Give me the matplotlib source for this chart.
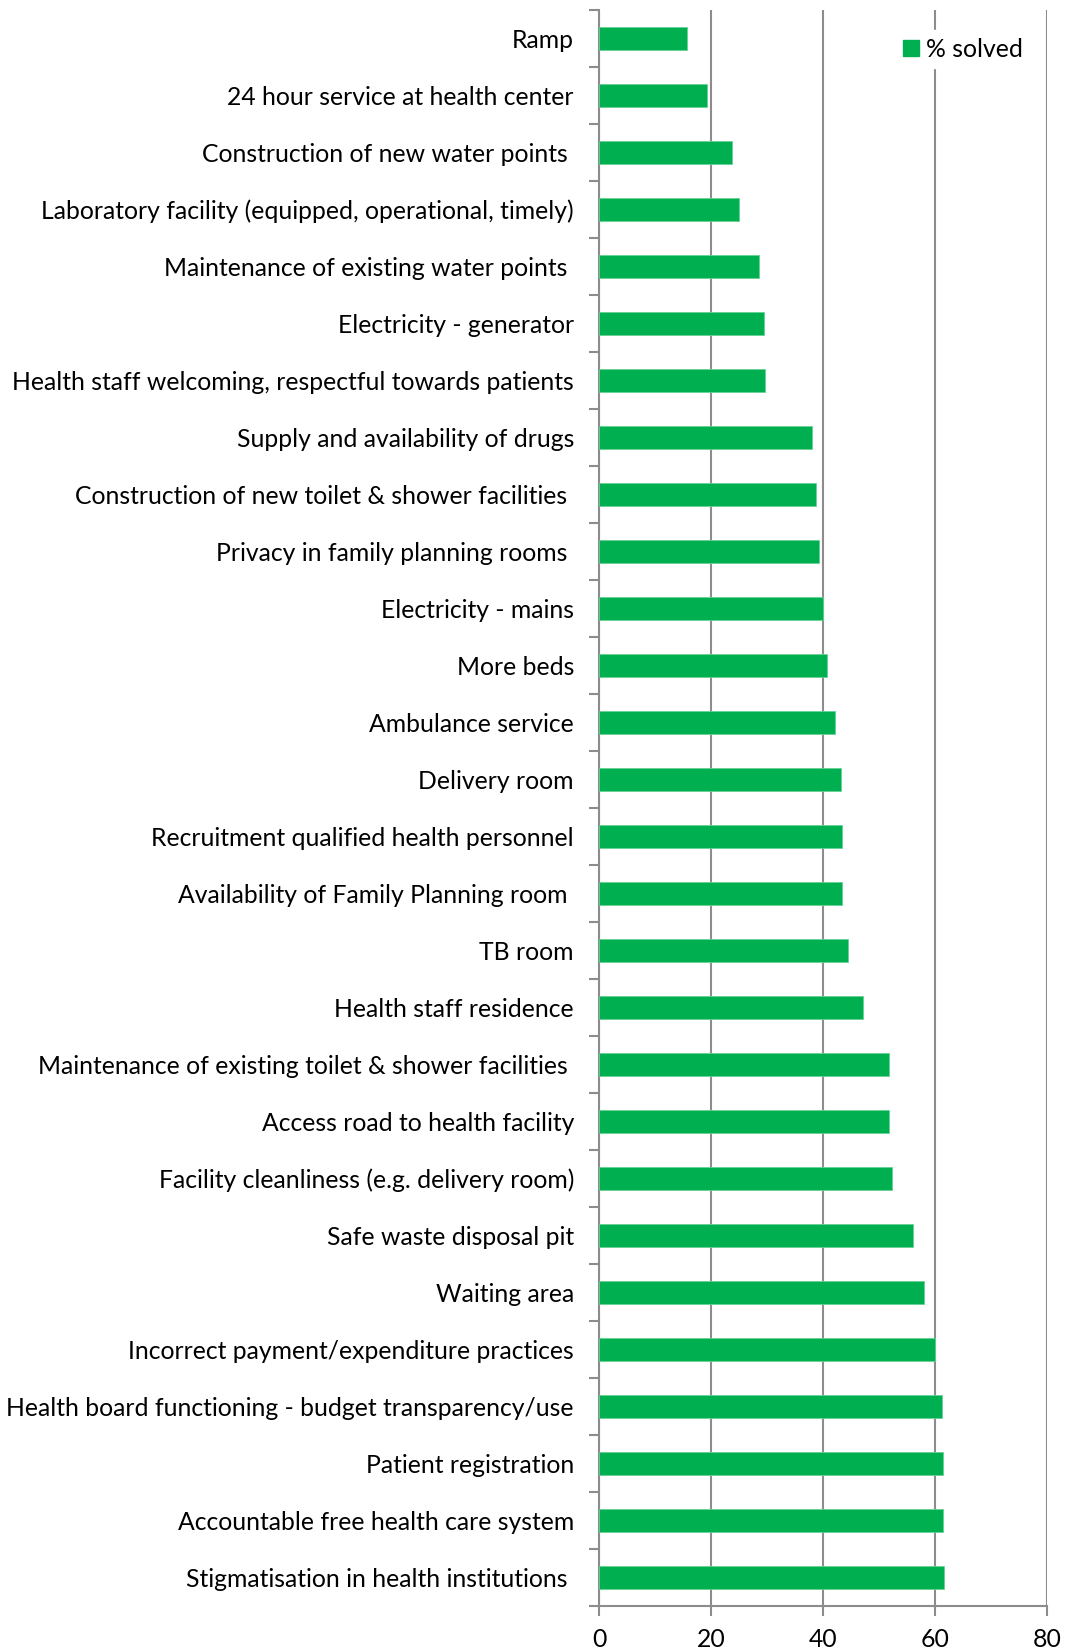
import matplotlib
matplotlib.use("Agg")
import matplotlib.pyplot as plt
from matplotlib.patches import Patch

# categories, top to bottom
labels = [
    "Ramp",
    "24 hour service at health center",
    "Construction of new water points ",
    "Laboratory facility (equipped, operational, timely)",
    "Maintenance of existing water points ",
    "Electricity - generator",
    "Health staff welcoming, respectful towards patients",
    "Supply and availability of drugs",
    "Construction of new toilet & shower facilities ",
    "Privacy in family planning rooms ",
    "Electricity - mains",
    "More beds",
    "Ambulance service",
    "Delivery room",
    "Recruitment qualified health personnel",
    "Availability of Family Planning room ",
    "TB room",
    "Health staff residence",
    "Maintenance of existing toilet & shower facilities ",
    "Access road to health facility",
    "Facility cleanliness (e.g. delivery room)",
    "Safe waste disposal pit",
    "Waiting area",
    "Incorrect payment/expenditure practices",
    "Health board functioning - budget transparency/use",
    "Patient registration",
    "Accountable free health care system",
    "Stigmatisation in health institutions ",
]

solved = [15.7, 19.3, 23.7, 25.0, 28.6, 29.5, 29.6, 38.1, 38.7, 39.3,
          40.0, 40.6, 42.1, 43.2, 43.4, 43.4, 44.5, 47.2, 51.7, 51.7,
          52.3, 56.0, 58.0, 60.0, 61.2, 61.3, 61.3, 61.6]

xticks = [0, 20, 40, 60, 80]

green = "#00B050"
grey = "#8C8C8C"
fs = 17.8

plt.rcParams["font.family"] = ["Lato", "DejaVu Sans"]

fig = plt.figure(figsize=(10.65, 16.5), dpi=100)
ax = fig.add_axes([0.5624, 0.0269, 0.4210, 0.9670])

y = list(range(len(labels)))
ax.barh(y, solved, height=0.4, color=green, edgecolor="#66D096",
        linewidth=0.6, zorder=3)

ax.set_ylim(len(labels) - 0.5, -0.5)
ax.set_xlim(0, 80)
ax.set_xticks(xticks)
ax.set_xticklabels([str(t) for t in xticks], fontsize=fs)

# category ticks sit on the boundaries between bars
ax.set_yticks([i - 0.5 for i in range(len(labels) + 1)])
ax.set_yticklabels([])
ax.set_yticks(y, minor=True)
ax.set_yticklabels(labels, minor=True, fontsize=fs)
ax.tick_params(axis="y", which="minor", length=0, pad=18)
ax.tick_params(axis="y", which="major", length=7, width=1.5, color=grey)
ax.tick_params(axis="x", length=7, width=1.5, color=grey, pad=9)

ax.xaxis.grid(True, color=grey, linewidth=1.5, zorder=0)
ax.set_axisbelow(True)
for side in ["top", "right"]:
    ax.spines[side].set_visible(False)
for side in ["left", "bottom"]:
    ax.spines[side].set_color(grey)
    ax.spines[side].set_linewidth(1.5)

handle = Patch(facecolor=green, edgecolor=green)
leg = ax.legend([handle], ["% solved"], loc="upper right",
                bbox_to_anchor=(0.99, 0.995), frameon=True, fontsize=fs,
                handlelength=0.65, handleheight=0.65, handletextpad=0.3,
                borderpad=0.3, fancybox=False)
leg.get_frame().set_edgecolor("white")
leg.get_frame().set_facecolor("white")
leg.get_frame().set_alpha(1)

fig.savefig("out.png", dpi=100)
